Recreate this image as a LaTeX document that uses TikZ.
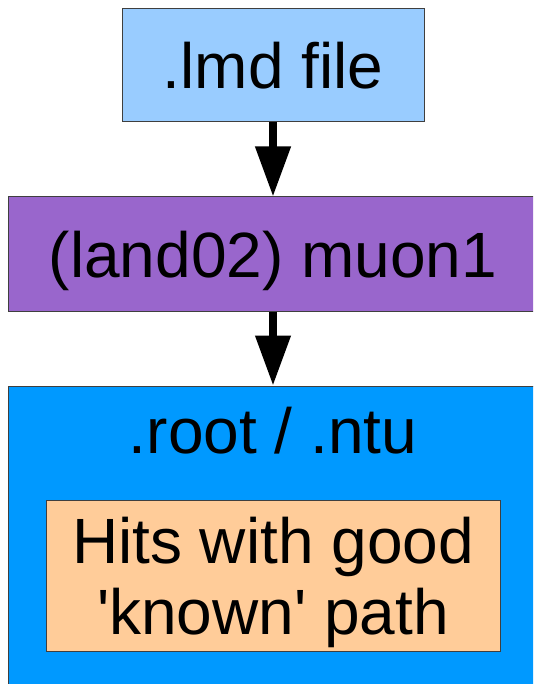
\documentclass[tikz,border=0pt]{standalone}
\usepackage{fontspec}
\setmainfont{Liberation Sans}
\usetikzlibrary{arrows.meta}
\definecolor{lmdblue}{HTML}{99CCFF}
\definecolor{muonpurple}{HTML}{9966CC}
\definecolor{rootblue}{HTML}{0099FF}
\definecolor{hitsorange}{HTML}{FFCC99}
\definecolor{edgegray}{HTML}{3F3F3F}
\tikzset{
  box/.style={draw=edgegray,line width=1pt,inner sep=0pt,text depth=0pt,
    font=\fontsize{64}{71}\selectfont},
  boxtext/.style={inner sep=0pt,text depth=0pt,font=\fontsize{64}{71}\selectfont},
  flow/.style={line width=7.5pt,-{Triangle[width=34pt,length=50pt]}}
}
\begin{document}
\begin{tikzpicture}[x=1pt,y=-1pt]
			\useasboundingbox (0,0) rectangle (533,684);
			\clip (0,0) rectangle (533,684);
			\def\xc{273};
			\node[box,fill=lmdblue,minimum width=302pt,minimum height=113pt] (lmd) at (\xc,65.5) {.lmd file};
			\node[box,fill=muonpurple,minimum width=530pt,minimum height=114pt] (muon) at (\xc,254) {(land02) muon1};
			\node[box,fill=rootblue,minimum width=530pt,minimum height=314pt] (root) at (\xc,543) {};
			\node[boxtext] (roottext) at (\xc,430) {.root / .ntu};
			\node[box,fill=hitsorange,minimum width=454pt,minimum height=151pt,align=center] (hits) at (\xc,575.5) {Hits with good\\\textquotesingle known\textquotesingle{} path};
			\draw[flow] (lmd.south) -- (muon.north);
			\draw[flow] (muon.south) -- (root.north);
		\end{tikzpicture}
\end{document}
